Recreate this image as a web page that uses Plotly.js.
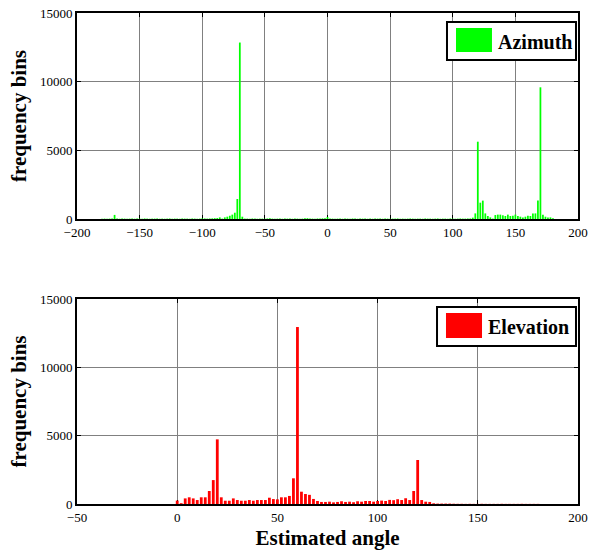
<!DOCTYPE html>
<html>
<head>
<meta charset="utf-8">
<script src="https://cdn.plot.ly/plotly-3.0.1.min.js"></script>
<style>html,body{margin:0;padding:0;background:#fff;}#chart{width:595px;height:556px;}</style>
</head>
<body>
<div id="chart"></div>
<script>
// Azimuth histogram: bins of 2 degrees, centers from -180 to 180
const azimuthStart = -180;
const azimuthBinWidth = 2;
const azimuthCounts = [
  20, 30, 20, 30, 40,
  300,
  30, 20, 40, 30, 20, 30, 40, 20, 30, 30,
  20, 40, 30, 20, 30, 30, 40, 20, 30, 20,
  30, 40, 20, 30, 30, 20, 40, 30, 30, 20,
  40, 30, 20, 30, 50, 40, 30, 40, 50, 60,
  70,
  120, 30, 120, 170, 240, 320, 460, 1460, 12850, 170, 30,
  30, 20, 40, 30, 20, 30, 30, 20, 40, 50,
  30, 20, 30, 40, 20, 30, 30, 40, 20, 30,
  30, 20, 30, 60, 60, 40, 30, 20, 40, 30,
  50, 60,
  150,
  40, 30, 20, 30, 40, 20, 30, 30, 20, 40,
  30, 20, 30, 30, 40, 20, 30, 20, 40, 30,
  30, 20, 40, 30, 20, 30, 30, 40, 20, 30,
  20, 30, 40, 30, 20, 30, 30, 20, 40, 30,
  30, 20, 30, 40, 20, 30, 30, 20, 40, 30,
  20, 30, 40, 30, 30, 40,
  40, 100, 410, 5630, 1190, 1340, 410, 220, 120, 30,
  290, 320, 320, 270, 220, 320, 220, 240, 320, 220,
  170, 120, 170, 240, 220, 410, 410, 1340, 9590, 320,
  170, 120, 120, 50
];

// Elevation histogram: bins of 2 degrees, centers from 0 to 180
const elevationStart = 0;
const elevationBinWidth = 2;
const elevationCounts = [
  250, 60, 410, 490, 410, 290, 490, 490, 950, 1750,
  4730, 490, 240, 240, 410, 290, 240, 240, 290, 240,
  290, 290, 290, 460, 360, 340, 490, 490, 590, 1880,
  12950, 900, 730, 670, 370, 220, 150, 150, 170, 120,
  150, 200, 150, 170, 130, 200, 170, 220, 220, 170,
  220, 250, 220, 300, 280, 350, 290, 420, 290, 950,
  3220, 290, 170, 150, 50, 30, 30, 30, 30, 20,
  15, 15, 10, 15, 10, 10, 15, 10, 10, 10,
  10, 15, 10, 10, 10, 10, 15, 10, 10, 10,
  10
];

const seriesNames = ['Azimuth', 'Elevation'];
const seriesColors = ['#00ff00', '#ff0000'];
const topTicks = [-200, -150, -100, -50, 0, 50, 100, 150, 200];
const bottomTicks = [-50, 0, 50, 100, 150, 200];
const yTicks = [0, 5000, 10000, 15000];
const yTitle = 'frequency bins';
const xTitle = 'Estimated angle';

const serif = '"Liberation Serif", "Times New Roman", serif';

function axisBase() {
  return {
    showgrid: true, gridcolor: '#808080', gridwidth: 1,
    zeroline: false,
    showline: true, linecolor: '#000', linewidth: 2, mirror: 'allticks',
    ticks: 'inside', ticklen: 4, tickcolor: '#000', tickwidth: 1,
    tickfont: {family: serif, size: 13, color: '#000'},
    layer: 'below traces', fixedrange: true
  };
}
function titleFont() {
  return {family: serif, size: 21, color: '#000', weight: 'bold'};
}

const traces = [
  {
    type: 'bar', name: seriesNames[0], x0: azimuthStart, dx: azimuthBinWidth, y: azimuthCounts,
    marker: {color: seriesColors[0], line: {width: 0}},
    xaxis: 'x', yaxis: 'y', showlegend: false
  },
  {
    type: 'bar', name: seriesNames[1], x0: elevationStart, dx: elevationBinWidth, y: elevationCounts,
    marker: {color: seriesColors[1], line: {width: 0}},
    xaxis: 'x2', yaxis: 'y2', showlegend: false
  }
];

// Legend boxes (paper coordinates), MATLAB style with large swatches
const legendBoxes = [
  {box: [0.7385, 0.9043, 0.996, 0.9817], sw: [0.7565, 0.9206, 0.8283, 0.9695], tx: 0.8363, ty: 0.9409},
  {box: [0.7186, 0.3218, 0.996, 0.4012], sw: [0.7365, 0.3381, 0.8084, 0.3890], tx: 0.8164, ty: 0.3605}
];
const shapes = [];
const annotations = [];
legendBoxes.forEach(function (lb, i) {
  shapes.push({type: 'rect', xref: 'paper', yref: 'paper', layer: 'above',
    x0: lb.box[0], y0: lb.box[1], x1: lb.box[2], y1: lb.box[3],
    fillcolor: '#fff', line: {color: '#000', width: 2}});
  shapes.push({type: 'rect', xref: 'paper', yref: 'paper', layer: 'above',
    x0: lb.sw[0], y0: lb.sw[1], x1: lb.sw[2], y1: lb.sw[3],
    fillcolor: seriesColors[i], line: {width: 0}});
  annotations.push({xref: 'paper', yref: 'paper', x: lb.tx, y: lb.ty,
    xanchor: 'left', yanchor: 'middle', showarrow: false, text: seriesNames[i],
    font: {family: serif, size: 20, color: '#000', weight: 'bold'}});
});

const layout = {
  width: 595, height: 556,
  margin: {l: 77, r: 17, t: 13, b: 52},
  font: {family: serif, size: 13, color: '#000'},
  paper_bgcolor: '#fff', plot_bgcolor: '#fff',
  bargap: 0.3,
  showlegend: false,
  xaxis: Object.assign(axisBase(), {
    range: [-200, 200], tickvals: topTicks, anchor: 'y', domain: [0, 1]
  }),
  yaxis: Object.assign(axisBase(), {
    range: [0, 15000], tickvals: yTicks, tickformat: 'd', anchor: 'x', domain: [0.5804, 1],
    title: {text: yTitle, font: titleFont(), standoff: 8}
  }),
  xaxis2: Object.assign(axisBase(), {
    range: [-50, 200], tickvals: bottomTicks, anchor: 'y2', domain: [0, 1],
    title: {text: xTitle, font: titleFont(), standoff: 7}
  }),
  yaxis2: Object.assign(axisBase(), {
    range: [0, 15000], tickvals: yTicks, tickformat: 'd', anchor: 'x2', domain: [0, 0.4175],
    title: {text: yTitle, font: titleFont(), standoff: 8}
  }),
  shapes: shapes,
  annotations: annotations
};

Plotly.newPlot('chart', traces, layout, {displayModeBar: false, staticPlot: true});
</script>
</body>
</html>
